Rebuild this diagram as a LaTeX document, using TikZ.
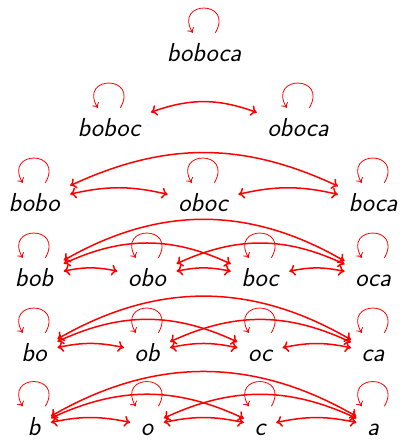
\documentclass[tikz,border=0pt]{standalone}
\usepackage{fontspec}
\usetikzlibrary{arrows.meta}
\begin{document}
\begin{tikzpicture}[x=1pt,y=1pt,
  w/.style={font=\fontsize{26}{30}\selectfont\sffamily\itshape, text height=19pt, text depth=0pt, inner xsep=10.5pt, inner ysep=10pt, anchor=base},
  ar/.style={red, line width=1.5pt, {Computer Modern Rightarrow[length=6pt,width=11pt]}-{Computer Modern Rightarrow[length=6pt,width=11pt]}},
  lp/.style={red, line width=0.8pt, -{Computer Modern Rightarrow[length=4.5pt,width=8pt]}}]
\useasboundingbox (0,0) rectangle (402,440);
% row 0
\node[w] (r0) at (204,378) {boboca};
% row 1
\node[w] (r1a) at (109,303) {boboc};
\node[w] (r1b) at (298,303) {oboca};
% row 2
\node[w] (r2a) at (34,228) {bobo};
\node[w] (r2b) at (203,228) {oboc};
\node[w] (r2c) at (373,228) {boca};
% row 3
\node[w] (r3a) at (34,153) {bob};
\node[w] (r3b) at (147,153) {obo};
\node[w] (r3c) at (260,153) {boc};
\node[w] (r3d) at (373,153) {oca};
% row 4
\node[w] (r4a) at (34,78) {bo};
\node[w] (r4b) at (147,78) {ob};
\node[w] (r4c) at (260,78) {oc};
\node[w] (r4d) at (373,78) {ca};
% row 5
\node[w] (r5a) at (34,4.5) {b};
\node[w] (r5b) at (147,4.5) {o};
\node[w] (r5c) at (260,4.5) {c};
\node[w] (r5d) at (373,4.5) {a};
% loops
\foreach \n in {r0,r1a,r1b,r2a,r2b,r2c,r3a,r3b,r3c,r3d,r4a,r4b,r4c,r4d,r5a,r5b,r5c,r5d}
  \draw[lp] (\n.60) .. controls +(60:38) and +(120:38) .. (\n.120);
% arrows
\draw[ar] (r1a) to[bend left=20] (r1b);
\draw[ar] (r2a) to[bend left=13] (r2b);
\draw[ar] (r2b) to[bend left=13] (r2c);
\draw[ar] (r2a) to[bend left=25] (r2c);
\foreach \r in {3,4,5}{
  \draw[ar] (r\r a) to[bend left=12] (r\r b);
  \draw[ar] (r\r b) to[bend left=12] (r\r c);
  \draw[ar] (r\r c) to[bend left=12] (r\r d);
  \draw[ar] (r\r a) to[bend left=25] (r\r c);
  \draw[ar] (r\r b) to[bend left=25] (r\r d);
  \draw[ar] (r\r a) to[bend left=30] (r\r d);
}
\end{tikzpicture}
\end{document}
